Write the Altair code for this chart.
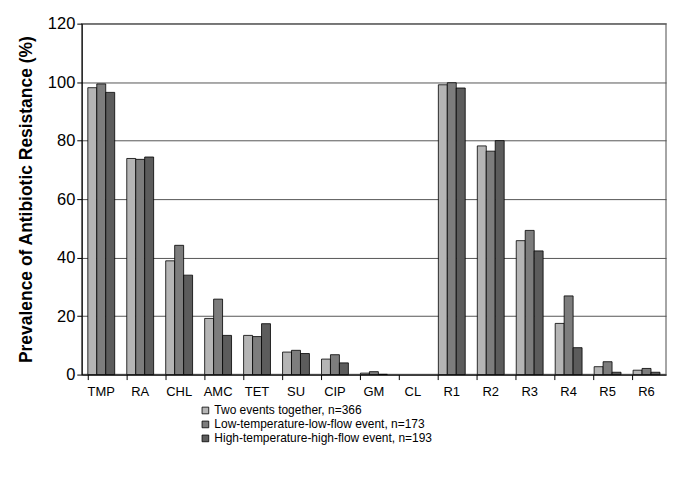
import altair as alt
import pandas as pd

categories = ["TMP", "RA", "CHL", "AMC", "TET", "SU", "CIP", "GM", "CL",
              "R1", "R2", "R3", "R4", "R5", "R6"]
series = ["Two events together, n=366",
          "Low-temperature-low-flow event, n=173",
          "High-temperature-high-flow event, n=193"]
two_events = [98.1, 73.9, 38.9, 19.2, 13.4, 7.7, 5.3, 0.5, 0, 99.1, 78.2, 45.8, 17.5, 2.7, 1.5]
low_temp = [99.4, 73.6, 44.2, 25.8, 13.0, 8.3, 6.8, 1.0, 0, 99.8, 76.4, 49.3, 26.9, 4.4, 2.1]
high_temp = [96.5, 74.4, 34.0, 13.4, 17.4, 7.2, 4.0, 0.1, 0, 98.0, 80.0, 42.3, 9.2, 0.8, 0.8]
y_ticks = [0, 20, 40, 60, 80, 100, 120]

rows = []
for s, vals in zip(series, [two_events, low_temp, high_temp]):
    for c, v in zip(categories, vals):
        rows.append({"cat": c, "series": s, "value": v})
df = pd.DataFrame(rows)

font = "Liberation Sans"

chart = alt.Chart(df).mark_bar(stroke="black", strokeWidth=0.8).encode(
    x=alt.X("cat:N", sort=categories,
            scale=alt.Scale(paddingInner=0.31, paddingOuter=0.155),
            axis=alt.Axis(title=None, labelAngle=0, labelFontSize=13, labelFont=font,
                          labelColor="black", bandPosition=0, ticks=True, tickSize=5,
                          tickColor="black", domainColor="black", labelPadding=6)),
    xOffset=alt.XOffset("series:N", sort=series),
    y=alt.Y("value:Q", scale=alt.Scale(domain=[0, 120], nice=False),
            axis=alt.Axis(values=y_ticks, title="Prevalence of Antibiotic Resistance (%)",
                          titleFontSize=17.5, titleFont=font, titleFontWeight="bold",
                          titleColor="black", titlePadding=12,
                          labelFontSize=16.5, labelFont=font, labelColor="black",
                          tickColor="black", tickSize=5, domainColor="black",
                          grid=True, gridColor="#555555", gridWidth=1)),
    fill=alt.Fill("series:N", sort=series,
                  scale=alt.Scale(domain=series, range=["#b5b5b5", "#7d7d7d", "#5c5c5c"]),
                  legend=alt.Legend(title=None, orient="none", legendX=118, legendY=382,
                                    symbolType="square", symbolSize=45,
                                    symbolStrokeColor="black", symbolStrokeWidth=0.8,
                                    labelFont=font, labelFontSize=12, labelColor="black",
                                    labelLimit=0, rowPadding=2, labelOffset=3)),
    strokeOpacity=alt.condition("datum.value == 0", alt.value(0), alt.value(1)),
).properties(
    width=586, height=352,
    autosize=alt.AutoSizeParams(type="none"),
    padding={"left": 74, "top": 15, "right": 1, "bottom": 94},
).configure_view(stroke="#888888", strokeWidth=1.5)

chart.save("out.html", embed_options={"renderer": "svg", "actions": False})
